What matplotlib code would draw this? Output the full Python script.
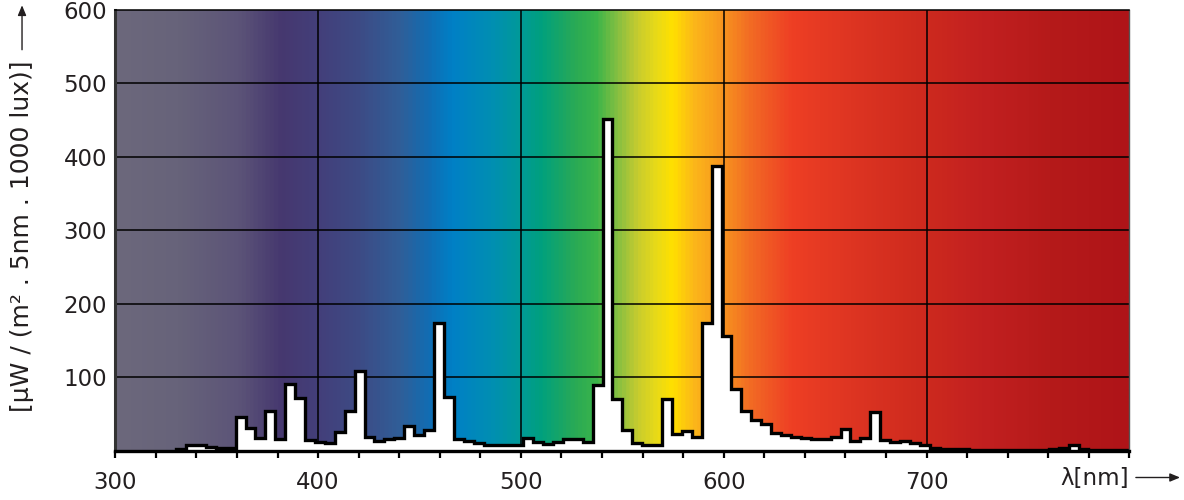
import numpy as np
import matplotlib
matplotlib.use("Agg")
import matplotlib.pyplot as plt
from matplotlib.colors import LinearSegmentedColormap

# spectral power distribution, drawn as steps (one step ~ 5 nm as plotted)
BIN_START = 330.0   # nm, left edge of the first step
BIN_WIDTH = 4.89    # nm, width of one step as drawn
power = [
    2, 8, 8, 5, 3, 3,
    46, 31, 17, 54, 16, 91, 71, 14, 11, 10,
    25, 54, 108, 19, 13, 15, 17, 34, 21, 28,
    174, 73, 15, 13, 10, 8, 8, 7, 7, 17,
    12, 9, 12, 16, 16, 11, 89, 451, 70, 28,
    10, 8, 8, 70, 23, 27, 18, 174, 388, 156,
    84, 54, 42, 36, 24, 21, 18, 17, 15, 15,
    19, 29, 13, 17, 53, 14, 12, 13, 10, 7,
    3, 2, 2, 2, 1, 1, 1, 1, 1, 1,
    1, 1, 2, 3, 7, 2, 1, 1, 1, 1,
]
x_ticks = list(range(300, 801, 20))
x_labelled = [300, 400, 500, 600, 700]
y_ticks = [100, 200, 300, 400, 500, 600]

# background rainbow: (wavelength nm, colour)
spectrum_stops = [
    (300, "#6C687C"), (330, "#67637A"), (360, "#5C5478"), (381, "#46386F"),
    (400, "#433F7A"), (420, "#3D4B85"), (440, "#305E98"), (455, "#106EB4"),
    (466, "#0080C6"), (486, "#008FB2"), (500, "#009A98"), (510, "#00A07E"),
    (527, "#2AAA55"), (537, "#3AB44A"), (549, "#8DC040"), (558, "#C8CC2E"),
    (567, "#E8DA18"), (575, "#FFE000"), (586, "#FCB61A"), (598, "#F89A1E"),
    (614, "#F26A24"), (634, "#EE3F24"), (663, "#DE3522"), (696, "#CF2B1E"),
    (729, "#C22020"), (762, "#B51A1A"), (800, "#AF1418"),
]

INK = "#231F20"
FONT = "DejaVu Sans"
plt.rcParams["font.family"] = [FONT]

fig = plt.figure(figsize=(11.84, 5.0), dpi=100)
ax = fig.add_axes([0.0974, 0.099, 0.8564, 0.881])

lo, hi = 300, 800
cmap = LinearSegmentedColormap.from_list(
    "spec", [((w - lo) / (hi - lo), c) for w, c in spectrum_stops])
grad = np.linspace(0, 1, 1200)[None, :]
ax.imshow(grad, cmap=cmap, aspect="auto", extent=[lo, hi, 0, 600],
          interpolation="bilinear", zorder=0)

edges = BIN_START + BIN_WIDTH * np.arange(len(power) + 1)
ax.stairs(power, edges, fill=True, facecolor="white", edgecolor="none", zorder=3)
ax.stairs(power, edges, color="black", lw=2.4, zorder=4)

ax.set_xlim(lo, hi)
ax.set_ylim(0, 600)

for v in [400, 500, 600, 700]:
    ax.axvline(v, color="black", lw=1.1, zorder=2)
for v in y_ticks[:-1]:
    ax.axhline(v, color="black", lw=1.1, zorder=2)

ax.set_xticks(x_ticks)
ax.set_xticklabels([str(v) if v in x_labelled else "" for v in x_ticks])
ax.set_yticks(y_ticks)
ax.set_yticklabels([str(v) for v in y_ticks])
ax.tick_params(axis="x", direction="out", length=5, width=1.6, color="black",
               pad=10, labelsize=16.5, labelcolor=INK)
ax.tick_params(axis="y", length=0, pad=6, labelsize=16.5, labelcolor=INK)

ax.spines["left"].set_linewidth(2.2)
ax.spines["left"].set_color("#333333")
ax.spines["bottom"].set_linewidth(2.4)
ax.spines["top"].set_linewidth(1.1)
ax.spines["right"].set_linewidth(1.0)
ax.spines["right"].set_color("#555555")
for s in ax.spines.values():
    s.set_zorder(5)

# axis captions with arrows
fig.text(0.0186, 0.528, "[μW / (m² . 5nm . 1000 lux)]", rotation=90,
         ha="center", va="center", fontsize=18, color=INK)
fig.add_artist(matplotlib.patches.FancyArrowPatch(
    (0.0186, 0.895), (0.0186, 0.995), transform=fig.transFigure,
    arrowstyle="-|>,head_length=6,head_width=2.5", color=INK, lw=1.0))

fig.text(0.9535, 0.043, "λ[nm]", ha="right", va="center", fontsize=16.5, color=INK)
fig.add_artist(matplotlib.patches.FancyArrowPatch(
    (0.957, 0.045), (0.999, 0.045), transform=fig.transFigure,
    arrowstyle="-|>,head_length=6,head_width=2.5", color=INK, lw=1.0))

fig.savefig("out.png", dpi=100, facecolor="white")
